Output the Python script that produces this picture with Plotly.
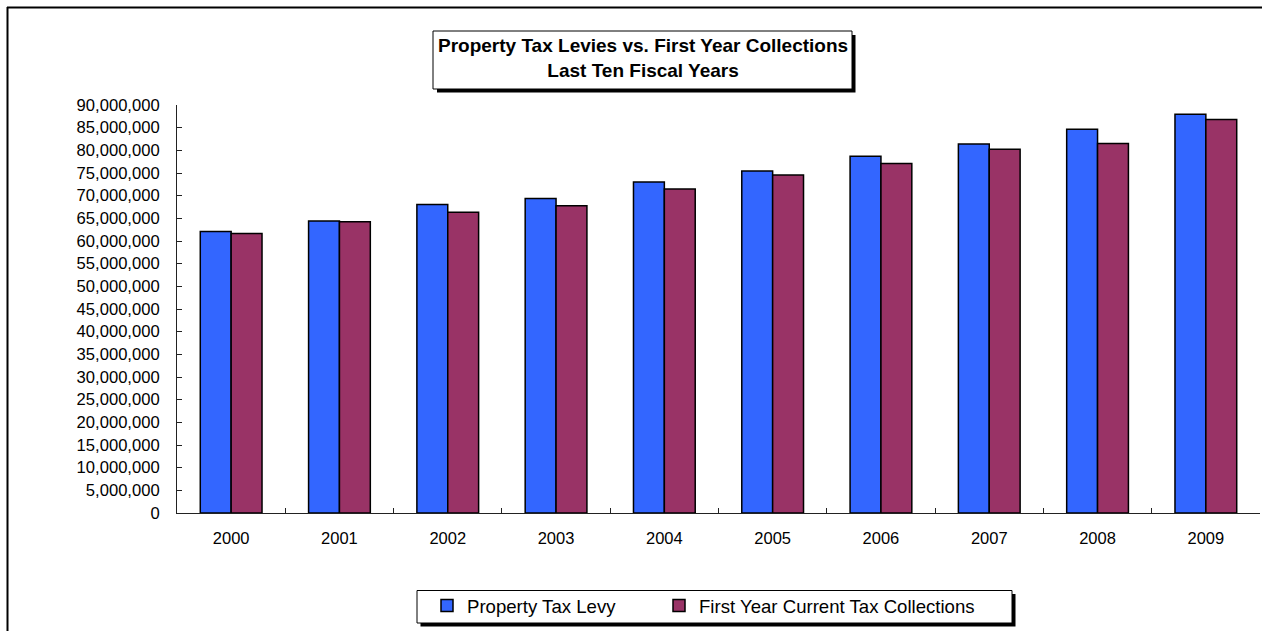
import plotly.graph_objects as go

# ---- data ----
years = ["2000", "2001", "2002", "2003", "2004", "2005", "2006", "2007", "2008", "2009"]
levy = [62.07e6, 64.41e6, 68.03e6, 69.35e6, 73.02e6, 75.44e6, 78.68e6, 81.40e6, 84.64e6, 87.95e6]
collections = [61.63e6, 64.27e6, 66.33e6, 67.80e6, 71.47e6, 74.56e6, 77.07e6, 80.23e6, 81.48e6, 86.78e6]
series_names = ["Property Tax Levy", "First Year Current Tax Collections"]
title_lines = ["Property Tax Levies vs. First Year Collections", "Last Ten Fiscal Years"]

# ---- geometry (pixels) ----
W, H = 1262, 631
ML, MR, MT, MB = 177, 2, 105, 118
PW = W - ML - MR
PH = H - MT - MB
FONT = "Liberation Sans, Arial, sans-serif"


def px(x):
    return (x - ML) / PW


def py(y):
    return (H - MB - y) / PH


fig = go.Figure()
fig.add_trace(go.Bar(x=years, y=levy, name=series_names[0], legend="legend",
                     marker=dict(color="#3366FF", line=dict(color="#000000", width=1.5))))
fig.add_trace(go.Bar(x=years, y=collections, name=series_names[1], legend="legend2",
                     marker=dict(color="#993366", line=dict(color="#000000", width=1.5))))

shapes = [
    # outer chart frame (left + top edges)
    dict(type="line", xref="paper", yref="paper", x0=px(7.5), x1=px(7.5), y0=py(7), y1=py(650),
         line=dict(color="black", width=2)),
    dict(type="line", xref="paper", yref="paper", x0=px(7), x1=px(1280), y0=py(7.5), y1=py(7.5),
         line=dict(color="black", width=2)),
    # title box shadow + box
    dict(type="rect", xref="paper", yref="paper", x0=px(437), x1=px(855.5), y0=py(92.5), y1=py(35),
         fillcolor="black", line=dict(width=0)),
    dict(type="rect", xref="paper", yref="paper", x0=px(433), x1=px(852), y0=py(89), y1=py(31),
         fillcolor="white", line=dict(color="black", width=1)),
    # legend box shadow + box
    dict(type="rect", xref="paper", yref="paper", x0=px(420.5), x1=px(1015.5), y0=py(626.5), y1=py(594),
         fillcolor="black", line=dict(width=0)),
    dict(type="rect", xref="paper", yref="paper", x0=px(417), x1=px(1012), y0=py(623), y1=py(590.5),
         fillcolor="white", line=dict(color="black", width=1)),
]

legend_common = dict(orientation="h", xanchor="left", yanchor="top",
                     bgcolor="rgba(0,0,0,0)", borderwidth=0,
                     font=dict(size=18.6, family=FONT, color="black"))

fig.update_layout(
    width=W, height=H,
    margin=dict(l=ML, r=MR, t=MT, b=MB, pad=0),
    paper_bgcolor="white", plot_bgcolor="white",
    font=dict(family=FONT, color="black"),
    bargap=0.43, bargroupgap=0,
    barmode="group",
    showlegend=True,
    legend=dict(x=px(427), y=py(587), **legend_common),
    legend2=dict(x=px(659), y=py(587), **legend_common),
    xaxis=dict(type="category", showline=True, linecolor="#222", linewidth=1,
               ticks="inside", ticklen=5, tickcolor="#222", tickson="boundaries",
               showgrid=False, zeroline=False,
               tickfont=dict(size=16.5, family=FONT, color="black"),
               ticklabelstandoff=10),
    yaxis=dict(range=[0, 90e6], dtick=5e6, tickformat=",d", showline=True,
               linecolor="#222", linewidth=1, ticks="inside", ticklen=5, tickcolor="#222",
               showgrid=False, zeroline=False,
               tickfont=dict(size=16.6, family=FONT, color="black"),
               ticklabelstandoff=13),
    shapes=shapes,
    annotations=[dict(xref="paper", yref="paper", x=px(642.5), y=py(58.5), xanchor="center", yanchor="middle",
                      showarrow=False,
                      text="<b>" + title_lines[0] + "</b><br><b>" + title_lines[1] + "</b>",
                      font=dict(size=19, family=FONT, color="black"))],
)

fig.write_html("out.html", config={"displayModeBar": False},
               post_script="document.body.style.margin='0';")
